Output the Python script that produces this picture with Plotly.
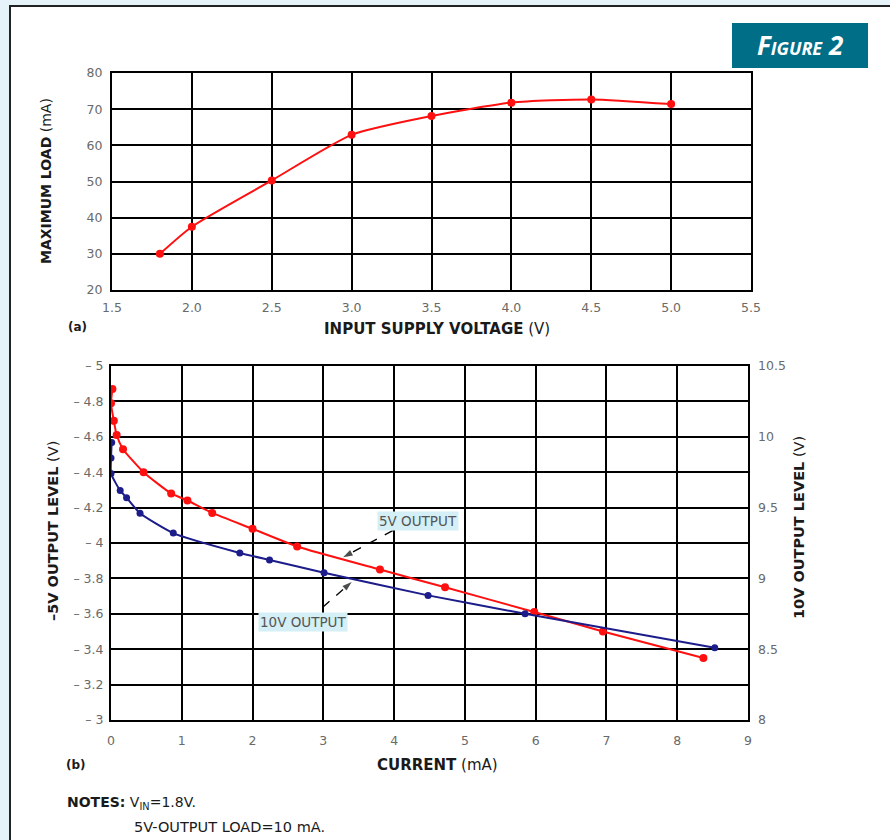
import plotly.graph_objects as go

# ---------------- data ----------------
# (a) maximum load vs input supply voltage
vin = [1.8, 2.0, 2.5, 3.0, 3.5, 4.0, 4.5, 5.0]
max_load = [30.0, 37.5, 50.3, 62.9, 68.1, 71.8, 72.7, 71.4]

# (b) -5V output level vs current (left axis)
i5 = [0.02, 0.0, 0.04, 0.08, 0.17, 0.46, 0.85, 1.08, 1.43, 2.0, 2.63, 3.80, 4.72, 5.98, 6.95, 8.37]
v5 = [-4.87, -4.79, -4.69, -4.61, -4.53, -4.40, -4.28, -4.24, -4.17, -4.08, -3.98, -3.85, -3.75, -3.61, -3.50, -3.35]

# (b) 10V output level vs current (right axis)
i10 = [0.01, 0.0, 0.0, 0.13, 0.22, 0.41, 0.88, 1.82, 2.24, 3.01, 4.48, 5.85, 8.53]
v10 = [9.96, 9.85, 9.74, 9.62, 9.57, 9.46, 9.32, 9.18, 9.13, 9.04, 8.88, 8.75, 8.51]

top_xticks = [1.5, 2.0, 2.5, 3.0, 3.5, 4.0, 4.5, 5.0, 5.5]
top_yticks = [20, 30, 40, 50, 60, 70, 80]
bot_xticks = [0, 1, 2, 3, 4, 5, 6, 7, 8, 9]
left_vals = [-5, -4.8, -4.6, -4.4, -4.2, -4, -3.8, -3.6, -3.4, -3.2, -3]
left_text = ["– 5", "– 4.8", "– 4.6", "– 4.4", "– 4.2", "– 4", "– 3.8", "– 3.6", "– 3.4", "– 3.2", "– 3"]
right_vals = [8, 8.5, 9, 9.5, 10, 10.5]
right_text = ["8", "8.5", "9", "9.5", "10", "10.5"]

W, H = 890, 840
RED = "#ff1010"
BLUE = "#1c1c8a"
BG = "#d4eff5"
TICKFONT = dict(family="DejaVu Sans", size=12.5, color="#6a6a6a")

def px(x):
    return x / W

def py(y):
    return 1 - y / H

fig = go.Figure()

fig.add_trace(go.Scatter(
    x=vin, y=max_load, mode="lines+markers", xaxis="x", yaxis="y",
    line=dict(color=RED, width=2, shape="spline", smoothing=0.6),
    marker=dict(color=RED, size=8), showlegend=False))

fig.add_trace(go.Scatter(
    x=i5, y=v5, mode="lines+markers", xaxis="x2", yaxis="y2",
    line=dict(color=RED, width=2, shape="spline", smoothing=0.5),
    marker=dict(color=RED, size=8), showlegend=False))

fig.add_trace(go.Scatter(
    x=i10, y=v10, mode="lines+markers", xaxis="x2", yaxis="y3",
    line=dict(color=BLUE, width=2, shape="spline", smoothing=0.5),
    marker=dict(color=BLUE, size=7), showlegend=False))

axis_common = dict(showgrid=True, gridcolor="black", gridwidth=2,
                   showline=True, linecolor="black", linewidth=2, mirror=True,
                   zeroline=False, ticks="", tickfont=TICKFONT, fixedrange=True,
                   automargin=False)

fig.update_layout(
    width=W, height=H,
    margin=dict(l=0, r=0, t=0, b=0, pad=0, autoexpand=False),
    paper_bgcolor="#e6f3f9",
    plot_bgcolor=BG,
    xaxis=dict(domain=[px(112), px(751)], anchor="y", range=[1.5, 5.5],
               tickvals=top_xticks, tickformat=".1f", ticklabelstandoff=5, **axis_common),
    yaxis=dict(domain=[py(290), py(73)], anchor="x", range=[20, 80],
               tickvals=top_yticks, ticklabelstandoff=5, **axis_common),
    xaxis2=dict(domain=[px(111), px(748)], anchor="y2", range=[0, 9],
                tickvals=bot_xticks, ticklabelstandoff=8, **axis_common),
    yaxis2=dict(domain=[py(720), py(366)], anchor="x2", range=[-3, -5],
                tickvals=left_vals, ticktext=left_text, ticklabelstandoff=3, **axis_common),
    yaxis3=dict(overlaying="y2", anchor="x2", side="right", range=[8, 10.5],
                tickvals=right_vals, ticktext=right_text, showgrid=False,
                zeroline=False, ticks="", tickfont=TICKFONT, ticklabelstandoff=9,
                showline=False, fixedrange=True, automargin=False),
)

# white panel with border
fig.add_shape(type="rect", xref="paper", yref="paper",
              x0=px(10), x1=1.01, y0=-0.01, y1=py(6),
              fillcolor="white", line=dict(color="#222", width=2), layer="below")

# FIGURE 2 badge
fig.add_shape(type="rect", xref="paper", yref="paper",
              x0=px(732), x1=px(868), y0=py(68), y1=py(23),
              fillcolor="#006e87", line=dict(width=0))

annos = []
annos.append(dict(x=px(800), y=py(45), xref="paper", yref="paper",
                  text="<b><i>Figure 2</i></b>", xanchor="center", yanchor="middle",
                  showarrow=False,
                  font=dict(family="Open Sans", size=26, color="white", variant="small-caps")))

def lab(x, y, text, size=15, angle=0, xanchor="center", font="DejaVu Sans",
        color="#1a1a1a", bg=None):
    d = dict(x=px(x), y=py(y), xref="paper", yref="paper", text=text,
             showarrow=False, textangle=angle, xanchor=xanchor, yanchor="middle",
             font=dict(family=font, size=size, color=color))
    if bg:
        d["bgcolor"] = bg
    annos.append(d)

lab(46, 181, "<b>MAXIMUM LOAD</b> (mA)", size=14, angle=-90)
lab(437, 329, "<b>INPUT SUPPLY VOLTAGE</b> (V)", size=15)
lab(77, 327, "<b>(a)</b>", size=12)
lab(53, 531, "<b>–5V OUTPUT LEVEL</b> (V)", size=14.5, angle=-90)
lab(799, 528, "<b>10V OUTPUT LEVEL</b> (V)", size=14.5, angle=-90)
lab(437, 765, "<b>CURRENT</b> (mA)", size=15)
lab(76, 765, "<b>(b)</b>", size=12)
lab(65, 803, "<b>NOTES:</b> V<sub>IN</sub>=1.8V.", size=14, xanchor="left")
lab(132, 827, "5V-OUTPUT LOAD=10 mA.", size=14.5, xanchor="left")

# series callouts: label plus dashed leader ending in an arrowhead
callouts = [
    # text, text-center px, tail (data), tip (data)
    ("5V OUTPUT", (418, 521), (3.98, -4.07), (3.28, -3.92)),
    ("10V OUTPUT", (303, 622), (2.80, -3.57), (3.40, -3.78)),
]
for text, (tx, ty), (x0, y0), (x1, y1) in callouts:
    lab(tx, ty, text, size=13.5, color="#555", bg=BG)
    fig.add_trace(go.Scatter(
        x=[x0, x1], y=[y0, y1], xaxis="x2", yaxis="y2", mode="lines+markers",
        line=dict(color="black", width=1.3, dash="dash"),
        marker=dict(symbol=["circle", "arrow"], size=[0, 10], color="black",
                    angleref="previous", line=dict(width=0)),
        hoverinfo="skip", showlegend=False))

fig.update_layout(annotations=annos)

post = ("document.documentElement.style.margin='0';"
        "document.body.style.margin='0';document.body.style.padding='0';"
        "document.body.style.overflow='hidden';")

fig.write_html("out.html", config={"displayModeBar": False}, post_script=post)
